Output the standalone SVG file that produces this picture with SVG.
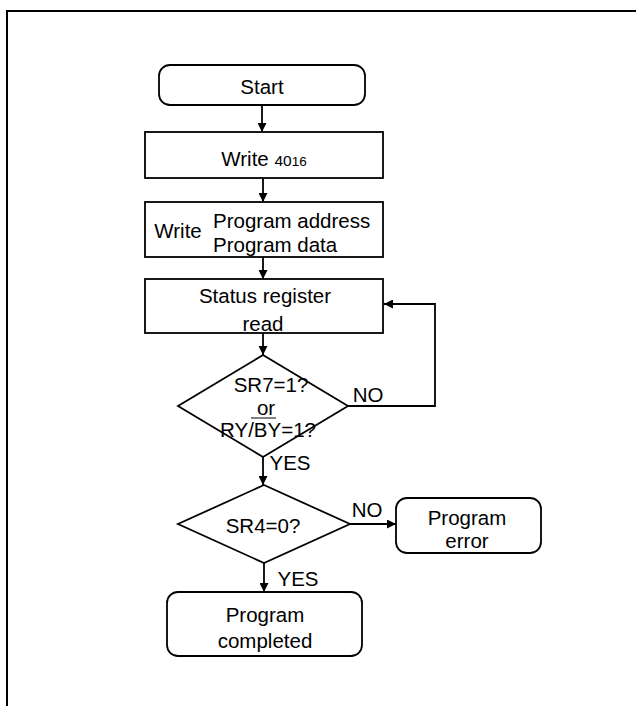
<svg xmlns="http://www.w3.org/2000/svg" width="636" height="706" viewBox="0 0 636 706">
<defs>
<marker id="ah" viewBox="0 0 10 10" refX="10" refY="5" markerWidth="9" markerHeight="9" markerUnits="userSpaceOnUse" orient="auto">
<path d="M0,0 L10,5 L0,10 z" fill="#000"/>
</marker>
</defs>
<style>
.s{fill:#fff;stroke:#000;stroke-width:1.8}
.t{font-family:"Liberation Sans",Arial,sans-serif;font-size:20.5px;fill:#000;text-anchor:middle}
.l{text-anchor:start}
.c{fill:none;stroke:#000;stroke-width:1.8;marker-end:url(#ah)}
.f{fill:none;stroke:#000;stroke-width:2}
</style>
<rect width="636" height="706" fill="#fff"/>
<path class="f" d="M7,706 V11 H636"/>
<g id="start"><rect class="s" x="159" y="65" width="206" height="40" rx="11"/><text class="t" x="262" y="94">Start</text></g>
<g id="write40"><rect class="s" x="145" y="132" width="238" height="46"/><text class="t" x="264" y="166">Write <tspan font-size="15.5">40</tspan><tspan font-size="13.5">16</tspan></text></g>
<g id="writeprog"><rect class="s" x="145" y="202" width="238" height="55"/><text class="t" x="178" y="238">Write</text><text class="t l" x="213" y="228">Program address</text><text class="t l" x="213" y="252">Program data</text></g>
<g id="status"><rect class="s" x="145" y="279" width="238" height="54"/><text class="t" x="265" y="303">Status register</text><text class="t" x="263" y="331">read</text></g>
<g id="d1"><polygon class="s" points="263,355 348,406 263,457 178,406"/><text class="t" x="271" y="392" font-size="14">SR7=1?</text><text class="t" x="266" y="415" font-size="13.5">or</text><line x1="251" y1="418" x2="276" y2="418" stroke="#000" stroke-width="1"/><text class="t" x="268" y="437" font-size="15.5">RY/BY=1?</text></g>
<g id="d2"><polygon class="s" points="264,485 350,524 264,563 178,524"/><text class="t" x="263" y="533">SR4=0?</text></g>
<g id="err"><rect class="s" x="396" y="498" width="145" height="55" rx="11"/><text class="t" x="467" y="525">Program</text><text class="t" x="467" y="548">error</text></g>
<g id="done"><rect class="s" x="167" y="592" width="195" height="64" rx="11"/><text class="t" x="265" y="622">Program</text><text class="t" x="265" y="648">completed</text></g>
<g id="connectors">
<line class="c" x1="262" y1="105" x2="262" y2="132"/>
<line class="c" x1="263" y1="178" x2="263" y2="202"/>
<line class="c" x1="263" y1="257" x2="263" y2="279"/>
<line class="c" x1="263" y1="333" x2="263" y2="355"/>
<line class="c" x1="263" y1="457" x2="263" y2="485"/>
<line class="c" x1="264" y1="563" x2="264" y2="592"/>
<line class="c" x1="350" y1="524" x2="396" y2="524"/>
<path class="c" d="M348,406 H435 V304 H384"/>
<text class="t" x="368" y="402" font-size="20">NO</text>
<text class="t" x="290" y="470" font-size="16">YES</text>
<text class="t" x="367" y="517" font-size="20">NO</text>
<text class="t" x="298" y="586" font-size="20">YES</text>
</g>
</svg>
